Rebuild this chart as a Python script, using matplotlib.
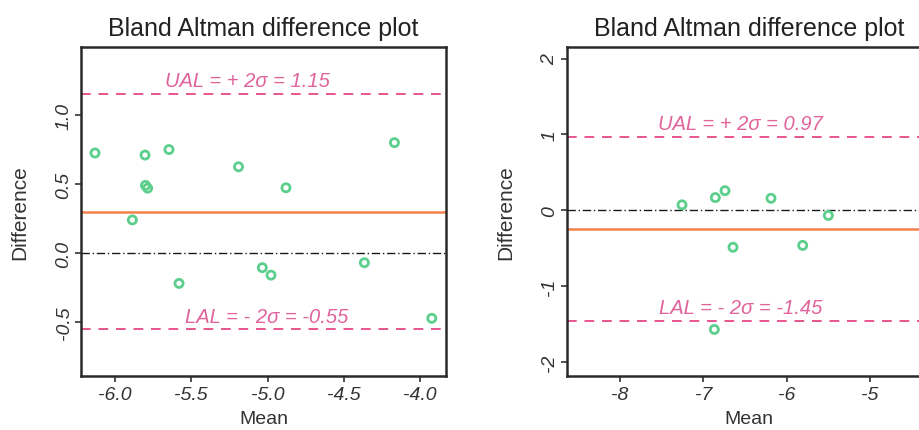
import matplotlib
matplotlib.use("Agg")
import matplotlib.pyplot as plt
import numpy as np

plt.rcParams['font.family'] = ['Liberation Sans', 'DejaVu Sans']

# Left panel data
left_mean = [-6.131, -5.803, -5.646, -5.800, -5.786, -5.886, -5.580, -5.190, -4.879, -5.034, -4.977, -4.365, -4.168, -3.923]
left_diff = [0.725, 0.710, 0.750, 0.490, 0.470, 0.240, -0.220, 0.625, 0.473, -0.106, -0.160, -0.070, 0.800, -0.473]
left_bias = 0.30
left_ual = 1.15
left_lal = -0.55
left_ual_label = "UAL = + 2σ = 1.15"
left_lal_label = "LAL = - 2σ = -0.55"
left_xticks = [-6.0, -5.5, -5.0, -4.5, -4.0]
left_yticks = [-0.5, 0.0, 0.5, 1.0]

# Right panel data
right_mean = [-7.256, -6.856, -6.740, -6.188, -5.500, -6.644, -5.808, -6.868]
right_diff = [0.074, 0.170, 0.260, 0.160, -0.066, -0.485, -0.460, -1.567]
right_bias = -0.24
right_ual = 0.97
right_lal = -1.45
right_ual_label = "UAL = + 2σ = 0.97"
right_lal_label = "LAL = - 2σ = -1.45"
right_xticks = [-8, -7, -6, -5]
right_yticks = [-2, -1, 0, 1, 2]

title = "Bland Altman difference plot"
pt_color = "#5ccf8c"
bias_color = "#f3834a"
loa_color = "#e8558f"
text_color = "#e0639c"

fig = plt.figure(figsize=(9.19, 4.31), dpi=100)
axL = fig.add_axes([0.0881, 0.1253, 0.3972, 0.7633])
axR = fig.add_axes([0.6166, 0.1253, 0.3972, 0.7633])

def draw(ax, xs, ys, bias, ual, lal, ual_lab, lal_lab, xt, yt, xlim, ylim, xfmt, ual_pos, lal_pos):
    ax.set_xlim(*xlim)
    ax.set_ylim(*ylim)
    ax.axhline(0, color="#1a1a1a", lw=1.0, ls=(0, (6, 2, 1, 2)), zorder=1)
    ax.axhline(bias, color=bias_color, lw=1.8, zorder=2)
    ax.axhline(ual, color=loa_color, lw=1.4, ls=(0, (5, 4)), zorder=2)
    ax.axhline(lal, color=loa_color, lw=1.4, ls=(0, (5, 4)), zorder=2)
    ax.scatter(xs, ys, s=34, facecolors="none", edgecolors=pt_color, linewidths=2.0, zorder=3)
    ax.text(ual_pos[0], ual_pos[1], ual_lab, color=text_color, style="italic", fontsize=14.5,
            ha="center", va="center")
    ax.text(lal_pos[0], lal_pos[1], lal_lab, color=text_color, style="italic", fontsize=14.5,
            ha="center", va="center")
    ax.set_xticks(xt)
    ax.set_xticklabels([xfmt(v) for v in xt], style="italic", fontsize=14, color="#333333")
    ax.set_yticks(yt)
    ax.set_yticklabels([xfmt(v) for v in yt], style="italic", fontsize=14, color="#333333",
                       rotation=90, va="center")
    ax.tick_params(direction="out", length=4, width=1.2, color="#333333", pad=2)
    ax.tick_params(axis="x", pad=3.5)
    for s in ax.spines.values():
        s.set_linewidth(1.8)
        s.set_color("#2a2a2a")
    ax.set_title(title, fontsize=18, color="#222222", pad=9)
    ax.set_xlabel("Mean", fontsize=14, color="#333333", labelpad=5)
    ax.set_ylabel("Difference", fontsize=15, color="#333333", labelpad=19)

draw(axL, left_mean, left_diff, left_bias, left_ual, left_lal, left_ual_label, left_lal_label,
     left_xticks, left_yticks, (-6.223, -3.83), (-0.891, 1.493), lambda v: f"{v:.1f}",
     (-5.13, 1.25), (-5.005, -0.46))
draw(axR, right_mean, right_diff, right_bias, right_ual, right_lal, right_ual_label, right_lal_label,
     right_xticks, right_yticks, (-8.64, -4.26), (-2.18, 2.152), lambda v: f"{v:d}",
     (-6.55, 1.15), (-6.55, -1.28))

fig.savefig("out.png", dpi=100, facecolor="white")
